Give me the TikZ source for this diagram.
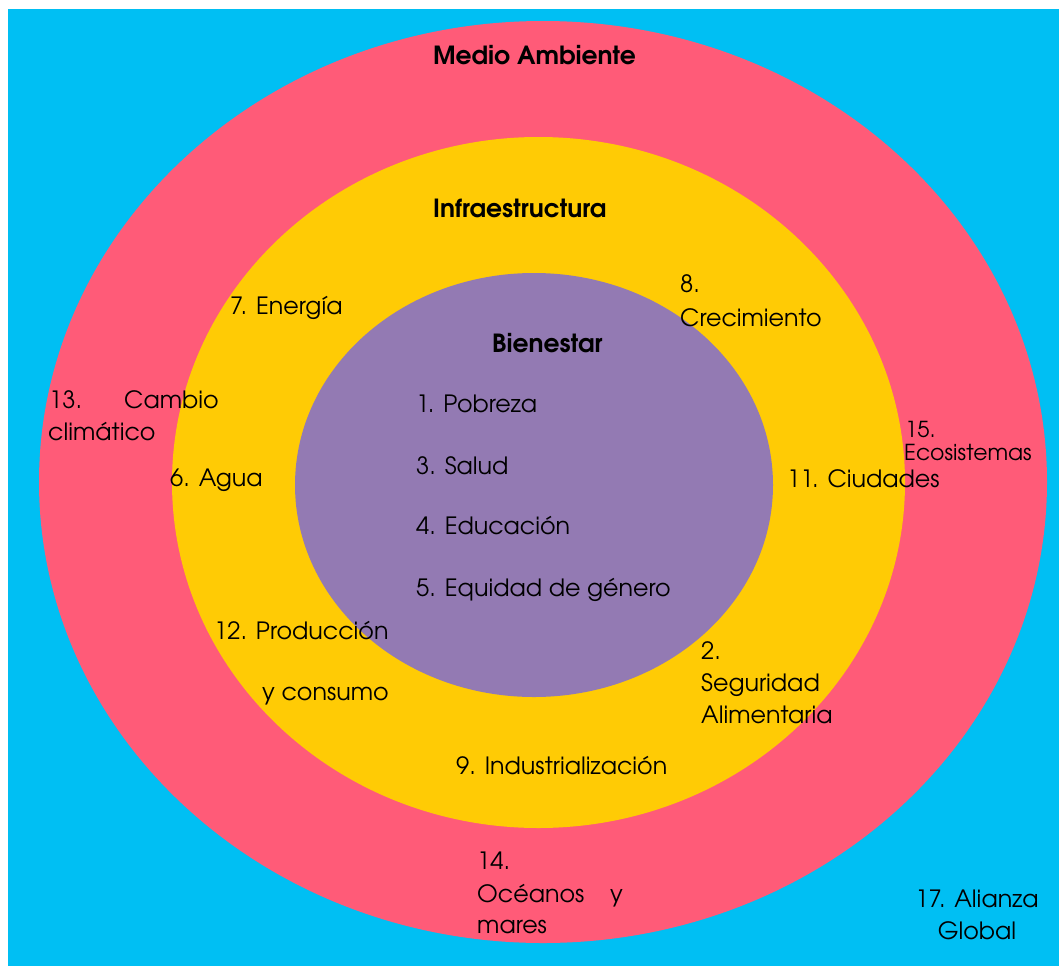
\documentclass[tikz,border=0pt]{standalone}
\usepackage{fontspec}
\setmainfont{texgyreadventor}[Extension=.otf,UprightFont=*-regular,BoldFont=*-bold,ItalicFont=*-italic,BoldItalicFont=*-bolditalic]
\definecolor{skyblue}{HTML}{00BFF3}
\definecolor{ringred}{HTML}{FF5B78}
\definecolor{ringyellow}{HTML}{FFCB05}
\definecolor{ringpurple}{HTML}{937AB3}
\tikzset{
  lbl/.style={anchor=base west, inner sep=0pt, font=\fontsize{23.8}{30}\selectfont, text=black},
  lblsmall/.style={lbl, font=\fontsize{22}{27}\selectfont},
  ttl/.style={anchor=base west, inner sep=0pt, font=\fontsize{25}{30}\selectfont\bfseries, text=black},
}
\begin{document}
\begin{tikzpicture}[x=1pt,y=-1pt]
\useasboundingbox (0,0) rectangle (1059,966);
\fill[skyblue] (8,9) rectangle (1059,966);
\fill[ringred] (543,482) ellipse [x radius=504pt, y radius=461pt];
\fill[ringyellow] (538.5,482.5) ellipse [x radius=366.5pt, y radius=345.5pt];
\fill[ringpurple] (534,485) ellipse [x radius=239pt, y radius=212pt];

% titles
\node[ttl] (medio) at (433,64) {Medio Ambiente};
\node[ttl] (infra) at (433,217) {Infraestructura};
\node[ttl] (bien) at (492,352) {Bienestar};

% inner
\node[lbl] (g1) at (416,412) {1. Pobreza};
\node[lbl] (g3) at (416,474) {3. Salud};
\node[lbl] (g4) at (416,534) {4. Educación};
\node[lbl] (g5) at (416,596) {5. Equidad de género};

% middle ring
\node[lbl] (g7) at (230,314) {7. Energía};
\node[lbl] (g8a) at (680,292) {8.};
\node[lbl] (g8b) at (680,326) {Crecimiento};
\node[lbl] (g6) at (170,486) {6. Agua};
\node[lbl] (g11) at (787,487) {11. Ciudades};
\node[lbl] (g12a) at (214,639) {12. Producción};
\node[lbl] (g12b) at (262,700) {y consumo};
\node[lbl] (g2a) at (701,659) {2.};
\node[lbl] (g2b) at (701,691) {Seguridad};
\node[lbl] (g2c) at (701,723) {Alimentaria};
\node[lbl] (g9) at (456,774) {9. Industrialización};

% outer ring
\node[lbl] (g13a) at (49,408) {13.};
\node[lbl] (g13b) at (124,408) {Cambio};
\node[lbl] (g13c) at (48,440) {climático};
\node[lblsmall] (g15a) at (905,437) {15.};
\node[lblsmall] (g15b) at (904,460) {Ecosistemas};
\node[lbl] (g14a) at (477,869) {14.};
\node[lbl] (g14b) at (477,902) {Océanos};
\node[lbl] (g14c) at (610,902) {y};
\node[lbl] (g14d) at (477,933) {mares};

% outside
\node[lbl, anchor=base] (g17a) at (977,907) {17. Alianza};
\node[lbl, anchor=base] (g17b) at (977,939) {Global};
\end{tikzpicture}
\end{document}
